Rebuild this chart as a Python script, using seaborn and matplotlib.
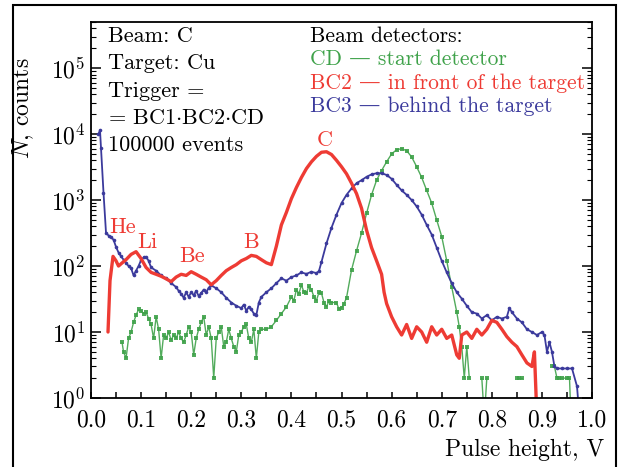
import numpy as np
import pandas as pd
import matplotlib
matplotlib.use("Agg")
import matplotlib.pyplot as plt
from matplotlib.patches import Rectangle
import seaborn as sns

# BC2 -- in front of the target (red)
bc2_x = [0.034, 0.038, 0.044, 0.05, 0.055, 0.06, 0.07, 0.08, 0.09, 0.10, 0.11, 0.12, 0.13, 0.14,
         0.15, 0.16, 0.17, 0.18, 0.19, 0.20, 0.21, 0.22, 0.23, 0.24, 0.25, 0.26, 0.27, 0.28,
         0.29, 0.30, 0.31, 0.32, 0.33, 0.34, 0.35, 0.36, 0.37, 0.38, 0.39, 0.40, 0.41, 0.42,
         0.43, 0.44, 0.45, 0.46, 0.47, 0.48, 0.49, 0.50, 0.51, 0.52, 0.53, 0.54, 0.55, 0.56,
         0.57, 0.58, 0.585, 0.59, 0.60, 0.61, 0.62, 0.63, 0.64, 0.65, 0.66, 0.67, 0.68, 0.69,
         0.70, 0.71, 0.72, 0.73, 0.735, 0.74, 0.75, 0.76, 0.77, 0.78, 0.79, 0.80, 0.81, 0.82,
         0.83, 0.84, 0.85, 0.86, 0.87, 0.88, 0.885, 0.89]
bc2_n = [10, 60, 140, 120, 100, 108, 125, 150, 165, 130, 95, 80, 75, 70,
         64, 58, 68, 75, 72, 82, 75, 68, 62, 52, 60, 72, 85, 95,
         105, 120, 130, 145, 140, 125, 112, 105, 200, 420, 650, 1050, 1550, 2200,
         3000, 3800, 4600, 5300, 5400, 4900, 4000, 3200, 2500, 1800, 1250, 750, 350, 190,
         120, 75, 40, 27, 17, 12, 9, 13, 8, 12, 10, 7, 12, 9,
         11, 8, 9, 4.5, 4, 9, 10, 8, 11, 9, 11, 15, 14, 11,
         8.5, 7, 6, 4.5, 3.4, 3, 5, 0.5]

# BC3 -- behind the target (blue)
bc3_x = [0.015, 0.018, 0.02, 0.025, 0.03, 0.035, 0.04, 0.045, 0.05, 0.055, 0.06, 0.065, 0.07,
         0.075, 0.08, 0.085, 0.09, 0.095, 0.10, 0.105, 0.11, 0.115, 0.12, 0.13, 0.14, 0.15,
         0.16, 0.17, 0.175, 0.18, 0.185, 0.19, 0.195, 0.20, 0.205, 0.21, 0.215, 0.22, 0.225,
         0.23, 0.235, 0.24, 0.25, 0.26, 0.27, 0.28, 0.29, 0.30, 0.305, 0.31, 0.315, 0.32,
         0.325, 0.33, 0.335, 0.34, 0.35, 0.36, 0.37, 0.38, 0.39, 0.40, 0.41, 0.42, 0.43,
         0.44, 0.45, 0.455, 0.46, 0.47, 0.48, 0.49, 0.50, 0.51, 0.52, 0.53, 0.54, 0.55,
         0.56, 0.57, 0.58, 0.59, 0.60, 0.61, 0.62, 0.63, 0.64, 0.65, 0.66, 0.67, 0.68,
         0.69, 0.70, 0.71, 0.72, 0.73, 0.74, 0.75, 0.76, 0.77, 0.78, 0.79, 0.80, 0.81,
         0.82, 0.83, 0.835, 0.84, 0.85, 0.86, 0.87, 0.88, 0.89, 0.90, 0.905, 0.91, 0.915,
         0.92, 0.925, 0.93, 0.94, 0.95, 0.96, 0.97, 0.975]
bc3_n = [10000, 11500, 6200, 1300, 320, 290, 275, 250, 195, 160, 140, 125, 112,
         100, 93, 72, 85, 100, 123, 135, 138, 120, 95, 85, 72, 65,
         55, 48, 42, 38, 33, 40, 34, 40, 36, 42, 35, 39, 44,
         40, 47, 51, 46, 40, 33, 28, 25, 23, 26, 21, 24, 22,
         19, 18, 28, 34, 40, 46, 55, 65, 60, 68, 72, 80, 76,
         82, 78, 84, 115, 220, 380, 600, 900, 1200, 1500, 1800, 2000, 2250,
         2450, 2550, 2550, 2400, 2100, 1700, 1400, 1200, 1000, 800, 600, 420, 300,
         190, 120, 80, 55, 40, 32, 25, 20, 19, 16, 18, 15, 17,
         16, 17, 23, 20, 16, 14, 11, 10, 9, 10, 9, 5, 7,
         5, 3, 2.8, 2.8, 2.8, 2.8, 1.5, 0.5]

# CD -- start detector (green); NaN = empty bin
cd_x = [0.062, 0.065, 0.07, 0.075, 0.08, 0.085, 0.09, 0.095, 0.10, 0.105, 0.11, 0.115, 0.12,
        0.125, 0.13, 0.135, 0.14, 0.145, 0.15, 0.155, 0.16, 0.165, 0.17, 0.175, 0.18, 0.185,
        0.19, 0.195, 0.20, 0.205, 0.21, 0.215, 0.22, 0.225, 0.23, 0.235, 0.24, 0.245, 0.25,
        0.255, 0.26, 0.265, 0.27, 0.275, 0.28, 0.285, 0.29, 0.295, 0.30, 0.305, 0.31, 0.315,
        0.32, 0.325, 0.33, 0.335, 0.34, 0.35, 0.36, 0.37, 0.38, 0.39, 0.40, 0.405, 0.41,
        0.415, 0.42, 0.425, 0.43, 0.435, 0.44, 0.445, 0.45, 0.455, 0.46, 0.465, 0.47, 0.475,
        0.48, 0.49, 0.495, 0.50, 0.505, 0.51, 0.52, 0.53, 0.54, 0.55, 0.56, 0.57, 0.58,
        0.59, 0.60, 0.61, 0.62, 0.63, 0.64, 0.65, 0.66, 0.67, 0.68, 0.69, 0.70, 0.71,
        0.72, 0.73, 0.735, 0.74, 0.745, 0.75, 0.755, 0.76,
        0.78, 0.785, 0.79, 0.80,
        0.85, 0.855, 0.86, 0.865,
        0.92, 0.925, 0.93, 0.935, 0.94, 0.95, 0.955, 0.958]
cd_n = [7, 5, 4, 8, 10, 14, 18, 22, 21, 19, 20, 16, 13,
        8, 17, 11, 4, 9, 8, 10, 7.5, 9, 8, 10, 8, 7,
        9, 12, 10, 4.5, 8, 11, 14, 17, 9, 12, 8, 2, 8,
        10, 12, 6, 7, 11, 8, 6, 5, 9, 10, 12, 13, 8,
        7, 11, 4, 10, 11, 11, 12, 15, 19, 24, 34, 30, 44,
        38, 52, 40, 39, 50, 44, 34, 30, 40, 39, 28, 24, 30,
        28, 28, 22, 23, 27, 33, 87, 170, 316, 630, 1200, 2000, 2800,
        3800, 5000, 5800, 6000, 5600, 4500, 3200, 2200, 1400, 900, 500, 280, 120,
        48, 20, 12, 6, 2, 6, 2, np.nan,
        2, 0.5, 2, np.nan,
        2, 2, 2, np.nan,
        3, 3, 2, 2, 2, 2, 2, 0.5]

x_ticks = [0.0, 0.1, 0.2, 0.3, 0.4, 0.5, 0.6, 0.7, 0.8, 0.9, 1.0]
y_ticks = [1, 10, 100, 1000, 10000, 100000]
y_labels = [r"$10^{0}$", r"$10^{1}$", r"$10^{2}$", r"$10^{3}$", r"$10^{4}$", r"$10^{5}$"]

peak_labels = ["He", "Li", "Be", "B", "C"]
peak_x = [0.036, 0.092, 0.176, 0.32, 0.466]
peak_y = [390, 230, 140, 230, 8000]

RED = "#ee3b34"
BLUE = "#3b3a9c"
GREEN = "#3fa24a"

sns.set_theme(style="ticks")
plt.rcParams["font.family"] = ["cmr10", "DejaVu Serif"]
plt.rcParams["mathtext.fontset"] = "cm"
plt.rcParams["axes.formatter.use_mathtext"] = True
plt.rcParams["axes.unicode_minus"] = False
plt.rcParams["text.color"] = "black"
plt.rcParams["axes.labelcolor"] = "black"

fig = plt.figure(figsize=(6.18, 4.67), dpi=100)
ax = fig.add_axes([0.1472, 0.1478, 0.8108, 0.8051])

green = pd.DataFrame({"x": cd_x, "n": cd_n})
green["seg"] = green["n"].isna().cumsum()
green = green.dropna()
sns.lineplot(data=green, x="x", y="n", units="seg", estimator=None, ax=ax,
             color=GREEN, lw=1.0, marker="s", markersize=2.2, markeredgewidth=0, alpha=0.9)

blue = pd.DataFrame({"x": bc3_x, "n": bc3_n})
sns.lineplot(data=blue, x="x", y="n", estimator=None, ax=ax,
             color=BLUE, lw=1.3, marker="o", markersize=2.6, markeredgewidth=0)

red = pd.DataFrame({"x": bc2_x, "n": bc2_n})
sns.lineplot(data=red, x="x", y="n", estimator=None, ax=ax, color=RED, lw=2.4)

ax.set_yscale("log")
ax.set_xlim(0, 1.0)
ax.set_ylim(1, 5e5)
ax.set_xticks(x_ticks)
ax.set_xticklabels(["%.1f" % t for t in x_ticks])
ax.set_xticks(np.arange(0.05, 1.0, 0.1), minor=True)
ax.set_yticks(y_ticks)
ax.set_yticklabels(y_labels)
ax.yaxis.set_minor_locator(matplotlib.ticker.LogLocator(base=10, subs=np.arange(2, 10)))
ax.yaxis.set_minor_formatter(matplotlib.ticker.NullFormatter())

ax.tick_params(axis="both", which="both", direction="in", labelsize=17, colors="black")
ax.tick_params(axis="y", which="major", length=7, width=1.1, right=True, pad=4)
ax.tick_params(axis="y", which="minor", length=3.5, width=0.8, right=True)
ax.tick_params(axis="x", which="both", length=4, width=1.1, top=False, pad=8)
for s in ax.spines.values():
    s.set_linewidth(1.3)
    s.set_color("black")

ax.set_xlabel("Pulse height, V", fontsize=17, ha="right")
ax.xaxis.set_label_coords(1.025, -0.11)
ax.set_ylabel(r"$N$, counts", fontsize=17)
ax.yaxis.set_label_coords(-0.11, 0.77)

for lab, px, py in zip(peak_labels, peak_x, peak_y):
    ax.text(px, py, lab, color=RED, fontsize=16, ha="left" if lab != "B" and lab != "C" else "center",
            va="center")

left_lines = ["Beam: C", "Target: Cu", "Trigger =",
              r"= BC1$\cdot$BC2$\cdot$CD", "100000 events"]
for i, t in enumerate(left_lines):
    ax.text(0.034, 0.963 - i * 0.073, t, transform=ax.transAxes, fontsize=16, va="center")

right_lines = ["Beam detectors:", "CD \u2014 start detector",
               "BC2 \u2014 in front of the target", "BC3 \u2014 behind the target"]
right_colors = ["black", GREEN, RED, BLUE]
for i, (t, c) in enumerate(zip(right_lines, right_colors)):
    ax.text(0.437, 0.963 - i * 0.0625, t, transform=ax.transAxes, fontsize=15.5,
            va="center", color=c)

fig.patches.append(Rectangle((13 / 618, -0.05), 603 / 618, 1.05 - 5 / 467,
                             transform=fig.transFigure, fill=False, lw=1.5,
                             edgecolor="black", clip_on=False))

fig.savefig("out.png", dpi=100)
